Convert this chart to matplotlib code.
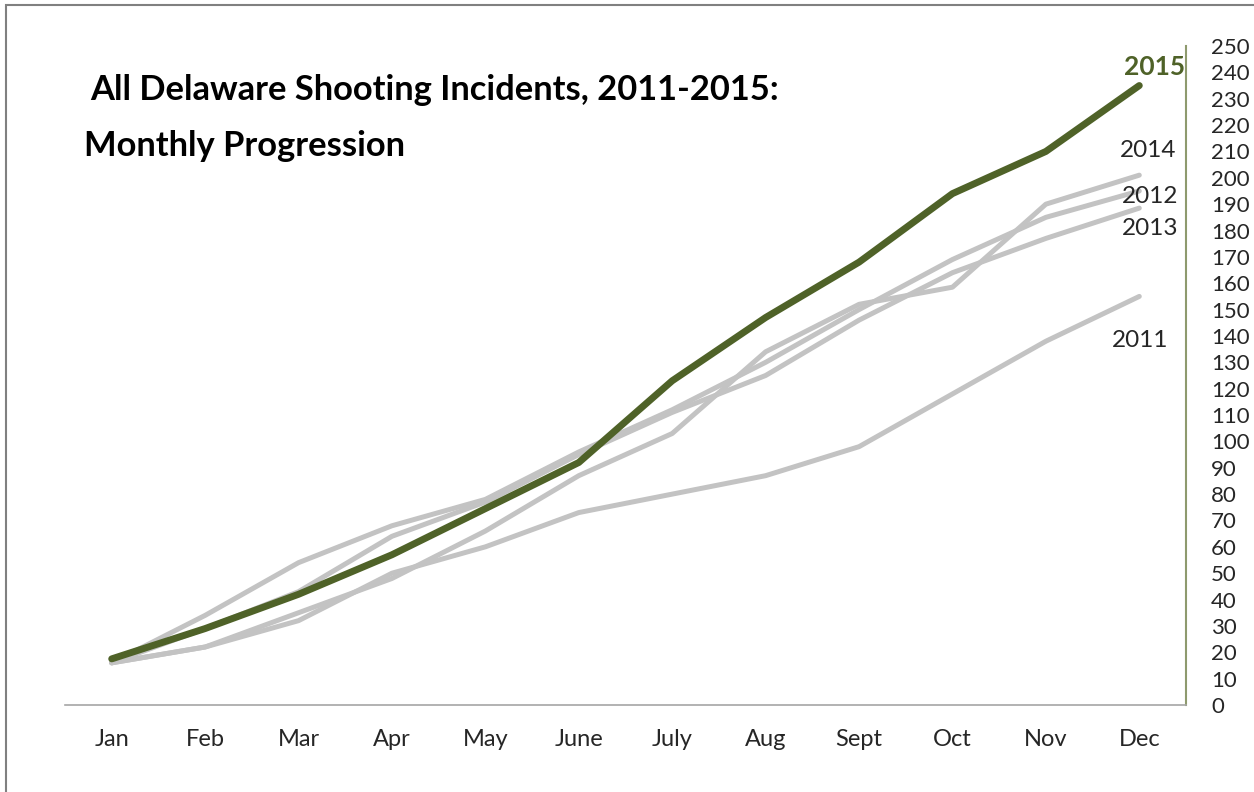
import matplotlib.pyplot as plt
from matplotlib.patches import Rectangle

plt.rcParams['font.family'] = ['Lato', 'DejaVu Sans']

months = ['Jan', 'Feb', 'Mar', 'Apr', 'May', 'June', 'July', 'Aug', 'Sept', 'Oct', 'Nov', 'Dec']
y2011 = [16, 22, 32, 50, 60, 73, 80, 87, 98, 118, 138, 155]
y2012 = [16, 34, 54, 68, 78, 96, 112, 130, 150, 169, 185, 195]
y2013 = [16, 29, 43, 64, 77, 95, 111, 125, 146, 164, 177, 188.5]
y2014 = [16, 22, 35, 48, 66, 87, 103, 134, 152, 158.5, 190, 201]
y2015 = [17.5, 29, 42, 57, 74.5, 92, 123, 147, 168, 194, 210, 235]

grey = '#c3c3c3'
green = '#4f6228'

fig = plt.figure(figsize=(12.54, 7.92), dpi=100)
ax = fig.add_axes([65 / 1254, 1 - 705 / 792, (1186 - 65) / 1254, (705 - 46) / 792])

x = list(range(len(months)))
# label offsets in pixels from each line's last point
grey_series = [('2011', y2011, (1, -44)), ('2012', y2012, (11, -6)),
               ('2013', y2013, (11, -20)), ('2014', y2014, (9, 25))]
for name, vals, off in grey_series:
    ax.plot(x, vals, color=grey, lw=3.6, solid_capstyle='round', solid_joinstyle='round')
    ax.annotate(name, xy=(x[-1], vals[-1]), xytext=off, textcoords='offset pixels',
                ha='center', va='center', fontsize=17.5, color='#262626')

ax.plot(x, y2015, color=green, lw=5, solid_capstyle='round', solid_joinstyle='round', zorder=5)
ax.annotate('2015', xy=(x[-1], y2015[-1]), xytext=(15, 19), textcoords='offset pixels',
            ha='center', va='center', fontsize=19, fontweight='bold', color=green)

ax.set_xlim(-0.5, 11.5)
ax.set_ylim(0, 250)
ax.set_xticks(x)
ax.set_xticklabels(months, fontsize=17, color='#262626')
ax.set_yticks(range(0, 251, 10))
ax.yaxis.tick_right()
ax.tick_params(axis='y', length=0, pad=18, labelsize=16, labelcolor='#262626')
ax.tick_params(axis='x', length=0, pad=17)
for lab in ax.get_yticklabels():
    lab.set_horizontalalignment('left')

ax.spines['top'].set_visible(False)
ax.spines['left'].set_visible(False)
ax.spines['right'].set_color('#8e9a6e')
ax.spines['right'].set_linewidth(1.5)
ax.spines['bottom'].set_color('#a6a6a6')
ax.spines['bottom'].set_linewidth(1.2)

fig.text(90 / 1254, 1 - 90 / 792, 'All Delaware Shooting Incidents, 2011-2015:',
         fontsize=24.8, fontweight='bold', va='center', ha='left')
fig.text(84 / 1254, 1 - 146 / 792, 'Monthly Progression',
         fontsize=24.8, fontweight='bold', va='center', ha='left')

fig.patches.append(Rectangle((6 / 1254, -0.1), 1.2, 1 - 5 / 792 + 0.1, transform=fig.transFigure,
                             fill=False, edgecolor='#808080', lw=1.5))

fig.savefig('out.png', dpi=100)
